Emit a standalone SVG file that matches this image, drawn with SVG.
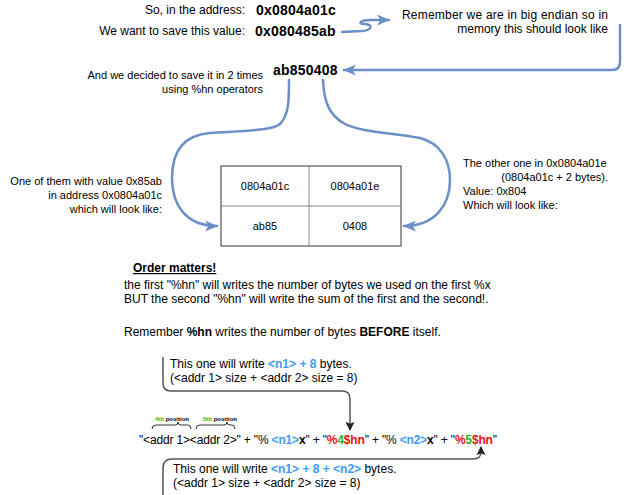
<svg xmlns="http://www.w3.org/2000/svg" width="630" height="495" viewBox="0 0 630 495">
<style>
.t{font-family:"Liberation Sans",Arial,sans-serif;font-size:12px;fill:#000}
.s{font-size:11px}
.v{font-size:14px;font-weight:bold;letter-spacing:0.2px}
.b{font-weight:bold}
.blue{fill:#3d9bf5;font-weight:bold}
.red{fill:#ee1111;font-weight:bold}
.green{fill:#1fb81f;font-weight:bold}
.tiny{font-size:6px;font-weight:bold}
.conn{fill:none;stroke:#6b8fc6;stroke-width:2.5;stroke-linecap:round}
.dark{fill:none;stroke:#555;stroke-width:1.5}
.cell{fill:#fff;stroke:#333;stroke-width:1}
.grid{stroke:#888;stroke-width:1}
</style>
<defs>
<marker id="ab" viewBox="0 0 12 10" refX="11" refY="5" markerWidth="13" markerHeight="11" markerUnits="userSpaceOnUse" orient="auto">
<path d="M0,0 L12,5 L0,10 L3,5 Z" fill="#6b8fc6"/>
</marker>
<marker id="ak" viewBox="0 0 10 10" refX="9" refY="5" markerWidth="9" markerHeight="9" markerUnits="userSpaceOnUse" orient="auto">
<path d="M0,0 L10,5 L0,10 L2,5 Z" fill="#222"/>
</marker>
</defs>

<g id="connectors">
<path class="conn" d="M342,32 L362,31 C373,30 373,24 364,24 C357,24 361,20 370,20 L389,20" marker-end="url(#ab)"/>
<path class="conn" d="M620,25 V62 Q620,70 612,70 H344" marker-end="url(#ab)"/>
<path class="conn" d="M289,80 C289,100 289,115 280,124 C272,131 240,131 210,133 C185,135 172,150 172,178 C172,205 186,226 217,226" marker-end="url(#ab)"/>
<path class="conn" d="M323,80 C324,100 328,115 345,124 C360,132 395,133 420,138 C440,143 450,160 450,180 C450,205 435,226 404,226" marker-end="url(#ab)"/>
<path class="dark" d="M163,357 V383 Q163,391 171,391 H342 Q350,391 350,399 V430" marker-end="url(#ak)"/>
<path class="dark" d="M163,495 V468 Q163,459 172,459 H473 Q481,459 481,452 V447" marker-end="url(#ak)"/>
</g>

<g id="address">
<text class="t" x="245" y="14" text-anchor="end">So, in the address:</text>
<text class="t v" x="256" y="15">0x0804a01c</text>
</g>
<g id="value">
<text class="t" x="245" y="35" text-anchor="end">We want to save this value:</text>
<text class="t v" x="255" y="36">0x080485ab</text>
</g>
<g id="endian-note">
<text class="t" x="608" y="19" text-anchor="end" textLength="206" lengthAdjust="spacing">Remember we are in big endian so in</text>
<text class="t" x="608" y="33" text-anchor="end">memory this should look like</text>
</g>
<g id="memory">
<text class="t v" x="273" y="75">ab850408</text>
</g>
<g id="decided-note">
<text class="t s" x="263" y="79" text-anchor="end">And we decided to save it in 2 times</text>
<text class="t s" x="263" y="93" text-anchor="end">using %hn operators</text>
</g>
<g id="left-note">
<text class="t s" x="162" y="185" text-anchor="end">One of them with value 0x85ab</text>
<text class="t s" x="162" y="199" text-anchor="end">in address 0x0804a01c</text>
<text class="t s" x="162" y="213" text-anchor="end">which will look like:</text>
</g>
<g id="right-note">
<text class="t s" x="463" y="167">The other one in 0x0804a01e</text>
<text class="t s" x="608" y="181" text-anchor="end">(0804a01c + 2 bytes).</text>
<text class="t s" x="463" y="195">Value: 0x804</text>
<text class="t s" x="463" y="209">Which will look like:</text>
</g>
<g id="table">
<rect class="cell" x="221" y="166" width="180" height="80"/>
<line class="grid" x1="309" y1="166" x2="309" y2="246"/>
<line class="grid" x1="221" y1="206" x2="401" y2="206"/>
<text class="t s" x="265" y="190" text-anchor="middle">0804a01c</text>
<text class="t s" x="355" y="190" text-anchor="middle">0804a01e</text>
<text class="t s" x="265" y="230" text-anchor="middle">ab85</text>
<text class="t s" x="355" y="230" text-anchor="middle">0408</text>
</g>
<g id="order-note">
<text class="t b" x="133" y="272" text-decoration="underline">Order matters!</text>
<text class="t" x="124" y="289">the first "%hn" will writes the number of bytes we used on the first %x</text>
<text class="t" x="124" y="303">BUT the second "%hn" will write the sum of the first and the second!.</text>
<text class="t" x="124" y="336">Remember <tspan class="b">%hn</tspan> writes the number of bytes <tspan class="b">BEFORE</tspan> itself.</text>
</g>
<g id="first-write">
<text class="t" x="170" y="368">This one will write <tspan class="blue">&lt;n1&gt; + 8</tspan> bytes.</text>
<text class="t" x="170" y="382">(&lt;addr 1&gt; size + &lt;addr 2&gt; size = 8)</text>
</g>
<g id="positions">
<text class="t tiny" x="155" y="421"><tspan class="green">4th</tspan> position</text>
<text class="t tiny" x="203" y="421"><tspan class="green">5th</tspan> position</text>
<path class="dark" style="stroke:#333;stroke-width:1" d="M152,429 Q152,425 156,425 H175 Q178,425 178,422 Q178,425 181,425 H188 Q191,425 191,429"/>
<path class="dark" style="stroke:#333;stroke-width:1" d="M196,429 Q196,425 200,425 H224 Q227,425 227,422 Q227,425 230,425 H232 Q235,425 235,429"/>
</g>
<g id="expression">
<text class="t" x="139" y="444" textLength="358" lengthAdjust="spacing">"&lt;addr 1&gt;&lt;addr 2&gt;" + "% <tspan class="blue">&lt;n1&gt;</tspan><tspan class="b">x</tspan>" + "<tspan class="red">%</tspan><tspan class="green">4</tspan><tspan class="red">$hn</tspan>" + "% <tspan class="blue">&lt;n2&gt;</tspan><tspan class="b">x</tspan>" + "<tspan class="red">%</tspan><tspan class="green">5</tspan><tspan class="red">$hn</tspan>"</text>
</g>
<g id="second-write">
<text class="t" x="173" y="473">This one will write <tspan class="blue">&lt;n1&gt; + 8 + &lt;n2&gt;</tspan> bytes.</text>
<text class="t" x="173" y="487">(&lt;addr 1&gt; size + &lt;addr 2&gt; size = 8)</text>
</g>
</svg>
